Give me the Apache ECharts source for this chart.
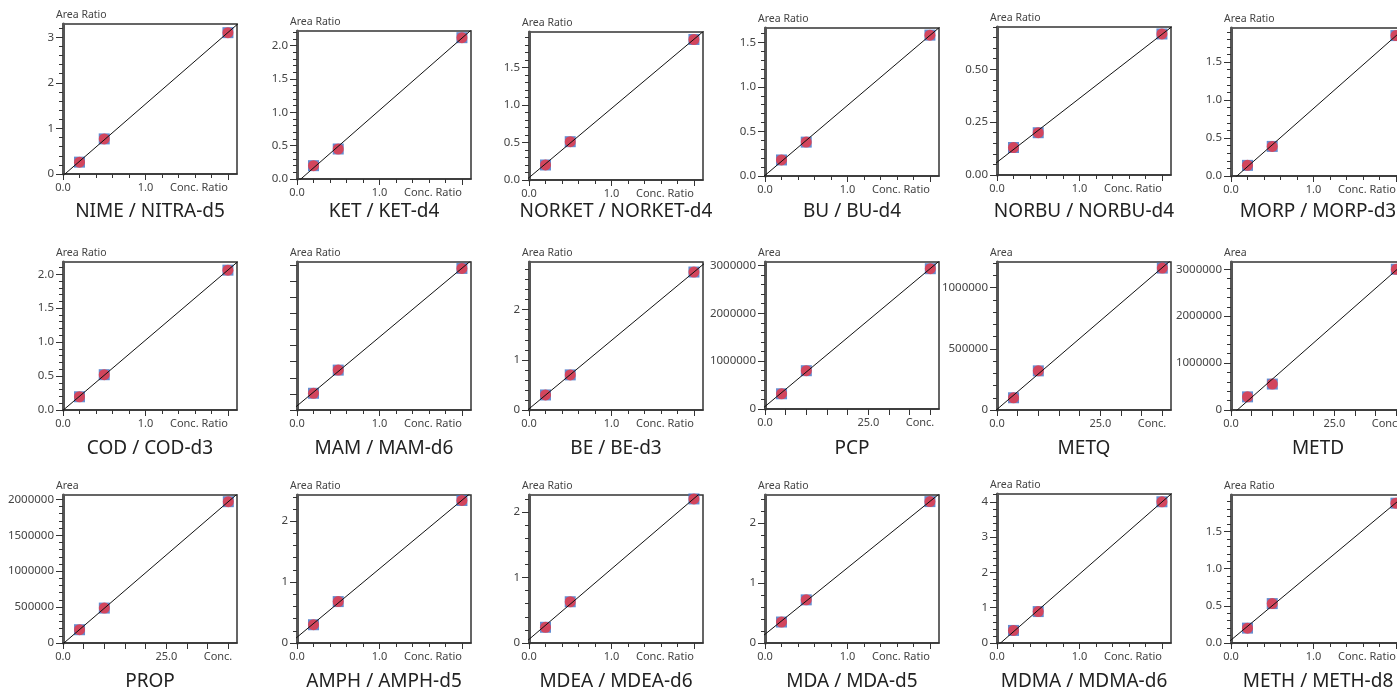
<!DOCTYPE html>
<html>
<head>
<meta charset="utf-8">
<script src="https://cdn.jsdelivr.net/npm/echarts@6/dist/echarts.min.js"></script>
<style>
html, body { margin: 0; padding: 0; background: #fff; }
#main { width: 1397px; height: 691px; }
</style>
</head>
<body>
<div id="main"></div>
<script>
// panel titles, left to right, top to bottom
var titles = [
    'NIME / NITRA-d5', 'KET / KET-d4', 'NORKET / NORKET-d4', 'BU / BU-d4', 'NORBU / NORBU-d4', 'MORP / MORP-d3',
    'COD / COD-d3', 'MAM / MAM-d6', 'BE / BE-d3', 'PCP', 'METQ', 'METD',
    'PROP', 'AMPH / AMPH-d5', 'MDEA / MDEA-d6', 'MDA / MDA-d5', 'MDMA / MDMA-d6', 'METH / METH-d8'
];
// calibration levels
var concRatio = [0.2, 0.5, 2.0];
var concAbs = [4, 10, 40];
// 1 = absolute area vs conc., 0 = area ratio vs conc. ratio
var isAbs = [0, 0, 0, 0, 0, 0, 0, 0, 0, 1, 1, 1, 1, 0, 0, 0, 0, 0];
var areaValues = [
    [0.26, 0.77, 3.10], [0.20, 0.45, 2.12], [0.20, 0.51, 1.87], [0.18, 0.38, 1.58], [0.13, 0.20, 0.667], [0.14, 0.39, 1.85],
    [0.195, 0.52, 2.06], [0.26, 0.62, 2.20], [0.30, 0.70, 2.75], [318000, 800000, 2930000], [100000, 320000, 1160000], [280000, 553000, 3000000],
    [185000, 486000, 1967000], [0.30, 0.68, 2.34], [0.24, 0.63, 2.20], [0.35, 0.72, 2.36], [0.356, 0.89, 4.0], [0.20, 0.53, 1.88]
];
var yMax = [3.29, 2.22, 1.97, 1.66, 0.70, 1.95, 2.18, 2.3, 2.95, 3070000, 1210000, 3155000, 2060000, 2.43, 2.26, 2.47, 4.22, 1.99];
var yLabelStep = [1, 0.5, 0.5, 0.5, 0.25, 0.5, 0.5, 0.25, 1, 1e6, 5e5, 1e6, 5e5, 1, 1, 1, 1, 0.5];
var yMinorSplit = [5, 5, 5, 5, 5, 5, 5, 1, 5, 5, 5, 5, 5, 5, 5, 5, 5, 5];
var yDecimals = [0, 1, 1, 1, 2, 1, 1, -1, 0, 0, 0, 0, 0, 0, 0, 0, 0, 1];

// layout
var colLeft = [63, 297, 529, 765, 997, 1231];
var plotWidth = 174;
var panelTop = [24, 31, 32, 28, 27, 28, 262, 262, 262, 262, 262, 262, 495, 495, 495, 495, 494, 495];
var panelBottom = [174, 179, 180, 176, 175, 176, 410, 410, 410, 409, 410, 410, 643, 643, 643, 643, 643, 643];
var titleY = [212, 449, 682];

var fontName = 'Noto Sans';
var textColor = '#444';

var dom = document.getElementById('main');
var chart = echarts.init(dom, null, { renderer: 'canvas' });

var measure = document.createElement('canvas').getContext('2d');
measure.font = '11px "' + fontName + '"';

function steps(max, step) {
    var out = [];
    for (var k = 0; k * step <= max + 1e-9; k++) {
        out.push(Math.round(k * step * 1e6) / 1e6);
    }
    return out;
}

function fitLine(xs, ys) {
    var n = xs.length, mx = 0, my = 0;
    for (var k = 0; k < n; k++) { mx += xs[k]; my += ys[k]; }
    mx /= n; my /= n;
    var sxx = 0, sxy = 0;
    for (k = 0; k < n; k++) {
        sxx += (xs[k] - mx) * (xs[k] - mx);
        sxy += (xs[k] - mx) * (ys[k] - my);
    }
    var b = sxy / sxx;
    return { a: my - b * mx, b: b };
}

var grids = [], xAxes = [], yAxes = [], series = [], graphics = [];

titles.forEach(function (title, i) {
    var col = i % 6, row = Math.floor(i / 6);
    var left = colLeft[col], top = panelTop[i], h = panelBottom[i] - top;
    var abs = isAbs[i] === 1;
    var xs = abs ? concAbs : concRatio;
    var xMax = abs ? 42.1 : 2.11;
    var lastLabel = abs ? 'Conc.' : 'Conc. Ratio';
    var labelX = abs ? [0, 25, 40] : [0, 1, 2];
    var lastW = measure.measureText(lastLabel).width;

    grids.push({
        left: left, top: top, width: plotWidth, height: h,
        show: true, borderColor: '#333', borderWidth: 1.5,
        containLabel: false, outerBoundsMode: 'none'
    });

    // x axis: major ticks + labels
    xAxes.push({
        gridIndex: i, type: 'value', position: 'bottom', min: 0, max: xMax,
        axisLine: { onZero: false, lineStyle: { color: '#333', width: 1.5 } },
        axisTick: { customValues: abs ? steps(40, 5) : [0, 1, 2], length: 6, lineStyle: { color: '#333' } },
        axisLabel: {
            customValues: labelX,
            color: textColor, fontSize: 11, fontFamily: fontName, margin: 8,
            formatter: function (v) {
                if (Math.abs(v - labelX[2]) < 1e-6) return '{c|' + lastLabel + '}{s|}';
                return v.toFixed(1);
            },
            rich: {
                c: { color: textColor, fontSize: 11, fontFamily: fontName },
                s: { width: abs ? lastW - 8 : lastW }
            }
        },
        splitLine: { show: false }
    });
    // x axis: minor ticks
    xAxes.push({
        gridIndex: i, type: 'value', position: 'bottom', min: 0, max: xMax,
        axisLine: { show: false },
        axisTick: { show: !abs, customValues: steps(2, 0.2), length: 4, lineStyle: { color: '#333' } },
        axisLabel: { show: false },
        splitLine: { show: false }
    });

    var dec = yDecimals[i];
    var majors = steps(yMax[i], yLabelStep[i]);
    yAxes.push({
        gridIndex: i, type: 'value', position: 'left', min: 0, max: yMax[i],
        axisLine: { show: true, onZero: false, lineStyle: { color: '#555', width: 3 } },
        axisTick: { show: true, customValues: majors, length: 7, lineStyle: { color: '#333' } },
        axisLabel: {
            show: dec >= 0, customValues: majors,
            color: textColor, fontSize: 11.5, fontFamily: fontName, margin: 9,
            formatter: function (v) { return v.toFixed(Math.max(dec, 0)); }
        },
        splitLine: { show: false }
    });
    yAxes.push({
        gridIndex: i, type: 'value', position: 'left', min: 0, max: yMax[i],
        axisLine: { show: false },
        axisTick: {
            show: yMinorSplit[i] > 1,
            customValues: steps(yMax[i], yLabelStep[i] / yMinorSplit[i]),
            length: 4, lineStyle: { color: '#333' }
        },
        axisLabel: { show: false },
        splitLine: { show: false }
    });

    var ys = areaValues[i];
    var fit = fitLine(xs, ys);
    var x0 = -0.2 * xMax, x1 = 1.2 * xMax;
    series.push({
        type: 'line', xAxisIndex: 2 * i, yAxisIndex: 2 * i,
        data: [[x0, fit.a + fit.b * x0], [x1, fit.a + fit.b * x1]],
        symbol: 'none', clip: true,
        lineStyle: { color: '#111', width: 1 }, silent: true
    });
    var pts = xs.map(function (x, k) { return [x, ys[k]]; });
    series.push({
        type: 'scatter', xAxisIndex: 2 * i, yAxisIndex: 2 * i,
        data: pts, symbol: 'rect', symbolSize: 11, clip: false,
        itemStyle: { color: '#3d6fc4' }
    });
    series.push({
        type: 'scatter', xAxisIndex: 2 * i, yAxisIndex: 2 * i,
        data: pts, symbol: 'circle', symbolSize: 11, clip: false,
        itemStyle: { color: '#ee3340' }
    });

    graphics.push({
        type: 'text', x: left - 7, y: top - 14,
        style: { text: abs ? 'Area' : 'Area Ratio', fill: textColor, font: '10.5px "' + fontName + '"' }
    });
    graphics.push({
        type: 'text', x: left + plotWidth / 2, y: titleY[row],
        style: {
            text: title, fill: '#222', font: '19px "' + fontName + '"',
            align: 'center', verticalAlign: 'middle'
        }
    });
});

var option = {
    animation: false,
    backgroundColor: '#fff',
    grid: grids,
    xAxis: xAxes,
    yAxis: yAxes,
    series: series,
    graphic: graphics
};

chart.setOption(option);
window.addEventListener('resize', chart.resize);
</script>
</body>
</html>
